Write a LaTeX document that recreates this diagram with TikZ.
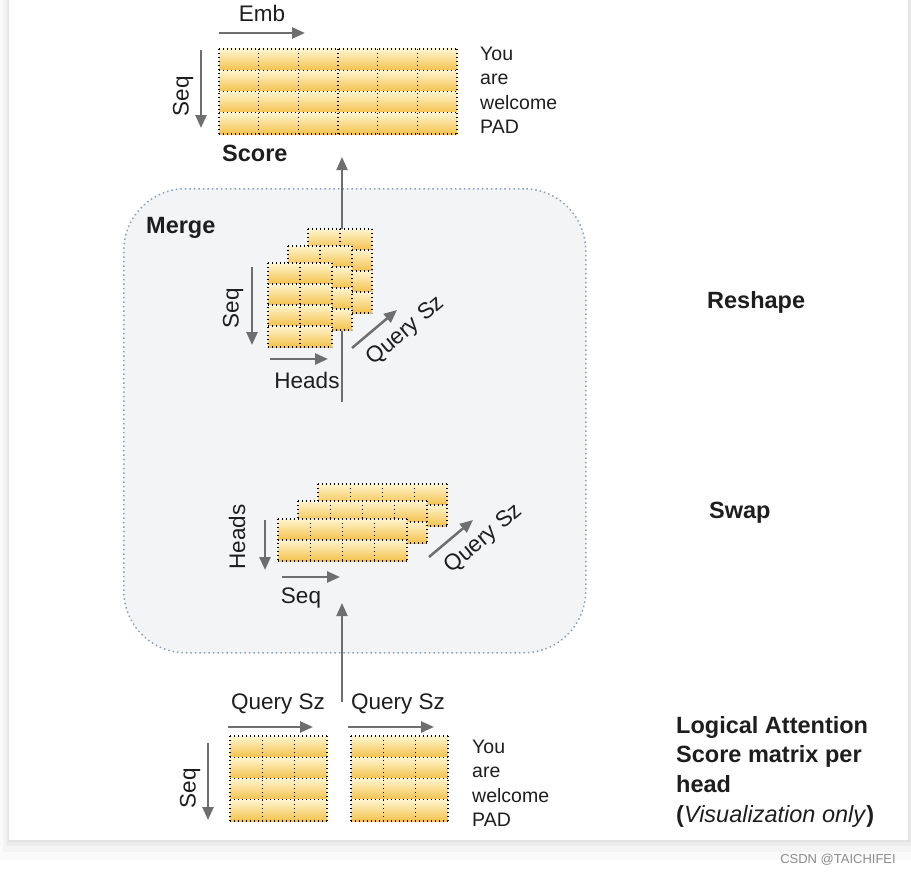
\documentclass[tikz,border=0pt]{standalone}
\usepackage{fontspec}
\setmainfont{Liberation Sans}
\usetikzlibrary{arrows.meta}
\definecolor{ctop}{HTML}{FFF5CF}
\definecolor{cbot}{HTML}{F4C24C}
\definecolor{arrgray}{HTML}{6E6E6E}
\definecolor{txt}{HTML}{1E1E1E}
\definecolor{mergefill}{HTML}{F3F4F6}
\definecolor{mergeline}{HTML}{8CA2B6}
\newcommand\mymat[7]{%
  \foreach \r in {1,...,#5}{%
    \shade[top color=ctop,bottom color=cbot] ({#2},{#3+(\r-1)*#7}) rectangle ++({#4*#6},{#7});
  }
  \foreach \c in {0,...,#4}{\draw[cellline] ({#2+\c*#6},{#3}) -- ++(0,{#5*#7});}
  \foreach \r in {0,...,#5}{\draw[cellline] ({#2},{#3+\r*#7}) -- ++({#4*#6},0);}
  \node[inner sep=0pt, minimum width={#4*#6*1pt}, minimum height={#5*#7*1pt}, anchor=north west] (#1) at ({#2},{#3}) {};
}
\tikzset{
  cellline/.style={black, line width=1.2pt, dash pattern=on 1.3pt off 2.7pt},
  axarrow/.style={arrgray, line width=2.5pt, -{Triangle[length=13pt,width=11pt]}},
  conn/.style={arrgray, line width=2pt, -{Triangle[length=13pt,width=11pt]}},
  lbl/.style={text=txt, inner sep=0pt, font=\fontsize{22.5}{26}\selectfont},
  blbl/.style={text=txt, inner sep=0pt, font=\fontsize{23.5}{29.7}\selectfont\bfseries},
  words/.style={text=txt, inner sep=0pt, align=left, font=\fontsize{19.5}{24.5}\selectfont},
}
\begin{document}
\begin{tikzpicture}[x=1pt,y=-1pt]
\useasboundingbox (0,0) rectangle (911,875);
% page background and card
\fill[white] (0,0) rectangle (911,875);
\fill[black,opacity=0.02] (0,0) rectangle (911,860);
\fill[black,opacity=0.025] (3,0) rectangle (911,852);
\fill[black,opacity=0.03] (6,0) rectangle (911,846);
\fill[black,opacity=0.035] (8,0) rectangle (910,842);
\fill[white] (9,0) rectangle (908,840);

% merge region
\node[draw=mergeline, fill=mergefill, line width=1.5pt, dash pattern=on 1.5pt off 3pt,
      rounded corners=62pt, inner sep=0pt, minimum width=462pt, minimum height=464pt,
      anchor=north west] (merge) at (123,188) {};
\node[blbl, anchor=west] (mergelbl) at (146,228) {Merge};

% connectors (drawn first so matrices sit on top)
\coordinate (c1s) at (342,702);
\coordinate (c1e) at (342,603);
\coordinate (c2s) at (342,402);
\coordinate (c2e) at (342,157);
\draw[conn] (c1s) -- (c1e);
\draw[conn] (c2s) -- (c2e);

% ---- top score matrix
\mymat{score}{219}{49}{6}{4}{39.67}{21.25}
\draw[axarrow] (219,33) -- (305,33);
\node[lbl] (emb) at (262,13) {Emb};
\draw[axarrow] (201,50) -- (201,128);
\node[lbl, rotate=90] (seqtop) at (183,96) {Seq};
\node[blbl, anchor=west] (scorelbl) at (222,153) {Score};
\node[words, anchor=west] (wordstop) at (480,90.5) {You\\are\\welcome\\PAD};

% ---- reshape stack
\mymat{rb}{308}{229}{2}{4}{32}{21}
\mymat{rm}{288}{246}{2}{4}{32}{21}
\mymat{rf}{268}{263}{2}{4}{32}{21}
\draw[axarrow] (252,267) -- (252,345);
\node[lbl, rotate=90] (rseq) at (233,308) {Seq};
\draw[axarrow] (270,359) -- (328,359);
\node[lbl] (rheads) at (307,380) {Heads};
\draw[axarrow] (352,348) -- (397,310);
\node[lbl, rotate=40] (rq) at (406,331) {Query Sz};
\node[blbl, anchor=west] (reshape) at (707,302) {Reshape};

% ---- swap stack
\mymat{sb}{318}{484}{4}{2}{32.25}{21}
\mymat{sm}{298}{501}{4}{2}{32.25}{21}
\mymat{sf}{278}{519}{4}{2}{32.25}{21}
\draw[axarrow] (265,520) -- (265,570);
\node[lbl, rotate=90] (sheads) at (237,537) {Heads};
\draw[axarrow] (282,577) -- (340,577);
\node[lbl] (sseq) at (301,598) {Seq};
\draw[axarrow] (429,557) -- (473,520);
\node[lbl, rotate=40] (sq) at (484,539) {Query Sz};
\node[blbl, anchor=west] (swap) at (709,513) {Swap};

% ---- bottom per-head matrices
\mymat{bl}{230}{736}{3}{4}{32.3}{21.25}
\mymat{br}{351}{736}{3}{4}{32.3}{21.25}
\draw[axarrow] (228,727) -- (313,727);
\draw[axarrow] (348,727) -- (434,727);
\node[lbl] (bq1) at (278,704) {Query Sz};
\node[lbl] (bq2) at (398,704) {Query Sz};
\draw[axarrow] (208,743) -- (208,820);
\node[lbl, rotate=90] (bseq) at (190,788) {Seq};
\node[words, anchor=west] (wordsbot) at (472,783.5) {You\\are\\welcome\\PAD};

\node[blbl, anchor=west, align=left] (logical) at (676,771.5)
  {Logical Attention\\Score matrix per\\head\\(\textmd{\itshape Visualization only})};

\node[text=black!45, inner sep=0pt, font=\fontsize{13}{15}\selectfont] (wm) at (838,860) {CSDN @TAICHIFEI};
\end{tikzpicture}
\end{document}
